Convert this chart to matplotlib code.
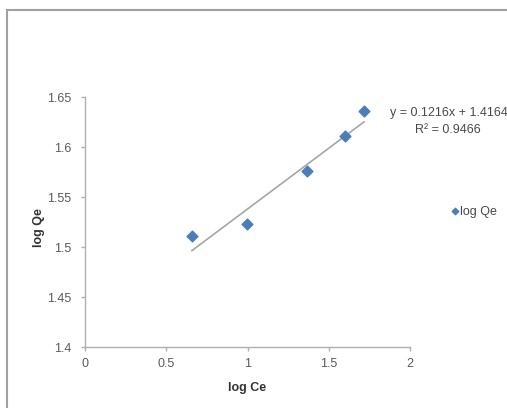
import matplotlib.pyplot as plt
from matplotlib.lines import Line2D

log_ce = [0.658, 0.997, 1.368, 1.600, 1.717]
log_qe = [1.511, 1.523, 1.576, 1.611, 1.636]
slope, intercept = 0.1216, 1.4164
r2 = 0.9466

plt.rcParams['font.family'] = ['Liberation Sans', 'DejaVu Sans']

fig = plt.figure(figsize=(5.07, 4.08), dpi=100)
ax = fig.add_axes([0.1677, 0.1495, 0.641, 0.6127])

ax.scatter(log_ce, log_qe, marker='D', s=30, color='#4a7ebb', zorder=3, label='log Qe')

# linear trendline over the data range
x0, x1 = min(log_ce), max(log_ce)
ax.plot([x0, x1], [slope * x0 + intercept, slope * x1 + intercept],
        color='#a6a6a6', lw=1.2, zorder=2)

ax.set_xlim(0, 2)
ax.set_ylim(1.4, 1.65)
ax.set_xticks([0, 0.5, 1, 1.5, 2])
ax.set_xticklabels(['0', '0.5', '1', '1.5', '2'])
ax.set_yticks([1.4, 1.45, 1.5, 1.55, 1.6, 1.65])
ax.set_yticklabels(['1.4', '1.45', '1.5', '1.55', '1.6', '1.65'])
for s in ['top', 'right']:
    ax.spines[s].set_visible(False)
for s in ['left', 'bottom']:
    ax.spines[s].set_color('#b0b0b0')
    ax.spines[s].set_linewidth(1)
ax.tick_params(colors='#b0b0b0', labelcolor='#5a5a5a', labelsize=9, length=3, width=1)
ax.tick_params(axis='x', pad=5)
ax.tick_params(axis='y', pad=7)

ax.set_xlabel('log Ce', fontsize=9, fontweight='bold', color='#333333')
ax.set_ylabel('log Qe', fontsize=9, fontweight='bold', color='#333333')
ax.xaxis.set_label_coords(0.498, -0.14)
ax.yaxis.set_label_coords(-0.122, 0.476)

fig.text(0.769, 0.723, f'y = {slope}x + {intercept}', fontsize=9, color='#4a4a4a',
         ha='left', va='center')
fig.text(0.819, 0.681, f'R² = {r2}', fontsize=9, color='#4a4a4a',
         ha='left', va='center')

fig.legend(loc='center left', bbox_to_anchor=(0.880, 0.481), frameon=False,
           fontsize=9, handlelength=0.4, handletextpad=0.2, borderpad=0,
           markerscale=0.6, labelcolor='#4a4a4a')

# chart border (top and left edges visible in the crop)
fig.add_artist(Line2D([0.0138, 1], [0.9755, 0.9755], color='#a0a0a0', lw=1.5))
fig.add_artist(Line2D([0.0138, 0.0138], [0, 0.9755], color='#a0a0a0', lw=1.5))

fig.savefig('out.png', dpi=100)
